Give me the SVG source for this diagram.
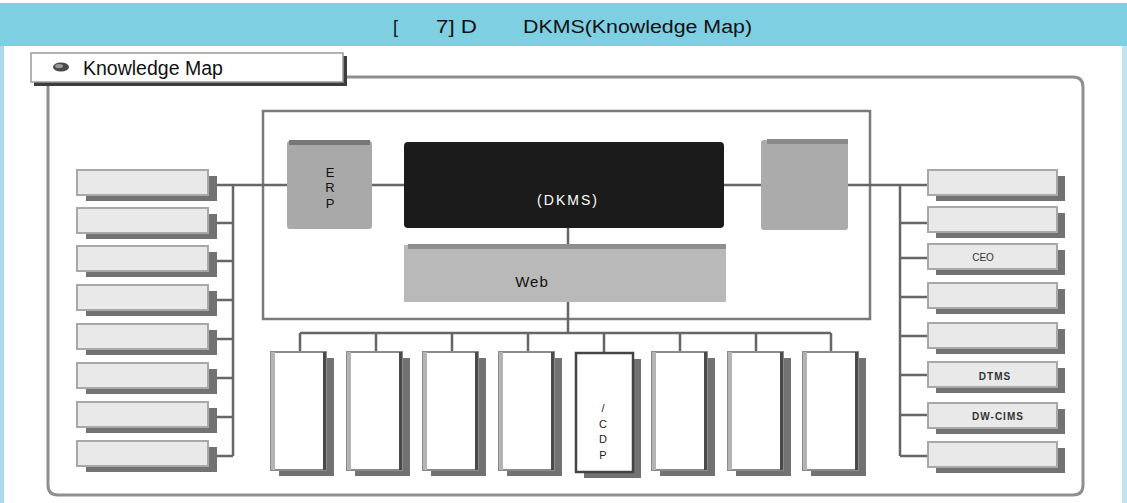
<svg xmlns="http://www.w3.org/2000/svg" width="1127" height="503" viewBox="0 0 1127 503">
<style>
text{font-family:"Liberation Sans",Arial,sans-serif;fill:#111}
.sh{fill:#727272}
.lb{fill:#e9e9e9;stroke:#a8a8a8;stroke-width:2}
.cb{fill:#fff;stroke:#8a8a8a;stroke-width:2}
.cl{fill:#b4b4b4}
.cr{fill:#4a4a4a}
.con{stroke:#666;stroke-width:2.5;fill:none}
.sm{font-size:10px;font-weight:bold;fill:#333;letter-spacing:1px;text-anchor:middle}
.vt{font-size:11px;fill:#222;text-anchor:middle}
</style>
<rect x="0" y="0" width="1127" height="503" fill="#fff"/>
<rect x="0" y="3" width="1127" height="43" fill="#7fcfe2"/>
<rect x="0" y="46" width="4" height="457" fill="#a6dbe9"/>
<rect x="1122" y="46" width="5" height="457" fill="#bfe6f0"/>
<g id="title">
<text x="393" y="33" font-size="18">[</text>
<text x="436" y="33" font-size="18" textLength="41" lengthAdjust="spacingAndGlyphs">7] D</text>
<text x="523" y="33" font-size="18" textLength="229" lengthAdjust="spacingAndGlyphs">DKMS(Knowledge Map)</text>
</g>
<g id="frame">
<path d="M48 86 V485 Q48 495 58 495 H1073 Q1083 495 1083 485 V87 Q1083 77 1073 77 H345" fill="none" stroke="#8f8f8f" stroke-width="3"/>
</g>
<g id="tab">
<rect x="34" y="56" width="313" height="30" fill="#3c3c3c"/>
<rect x="31" y="53" width="312" height="29" fill="#fff" stroke="#9a9a9a" stroke-width="1.5"/>
<ellipse cx="61" cy="67" rx="8" ry="4.5" fill="#4a4a4a"/>
<ellipse cx="59" cy="66" rx="4" ry="2" fill="#9a9a9a"/>
<text x="83" y="75" font-size="19.5">Knowledge Map</text>
</g>
<g id="inner">
<rect x="263" y="111" width="607" height="208" fill="none" stroke="#7a7a7a" stroke-width="2.5"/>
</g>
<g id="connectors">
<path class="con" d="M216 185 H287 M233 185 V456 M216 223 H233 M216 261 H233 M216 300 H233 M216 339 H233 M216 378 H233 M216 417 H233 M216 456 H233"/>
<path class="con" d="M372 185 H404 M724 185 H761 M568 228 V245 M568 302 V333"/>
<path class="con" d="M848 185 H928 M900 185 V456 M900 223 H928 M900 258 H928 M900 297 H928 M900 336 H928 M900 375 H928 M900 415 H928 M900 456 H928"/>
<path class="con" d="M300 333 H831 M300 333 V352 M376 333 V352 M452 333 V352 M528 333 V352 M604 333 V352 M680 333 V352 M756 333 V352 M831 333 V352"/>
</g>
<g id="erp">
<rect x="287" y="141" width="85" height="88" rx="3" fill="#a9a9a9"/>
<rect x="289" y="140" width="81" height="5" fill="#777"/>
<text x="330" y="177" font-size="13" text-anchor="middle">E</text>
<text x="330" y="192" font-size="13" text-anchor="middle">R</text>
<text x="330" y="208" font-size="13" text-anchor="middle">P</text>
</g>
<g id="dkms">
<rect x="404" y="142" width="320" height="86" rx="4" fill="#1b1b1b"/>
<text x="568" y="205" font-size="14" letter-spacing="2" text-anchor="middle" style="fill:#fff">(DKMS)</text>
</g>
<g id="rightbox">
<rect x="761" y="140" width="87" height="90" rx="3" fill="#ababab"/>
<rect x="767" y="139" width="81" height="5" fill="#8a8a8a"/>
</g>
<g id="web">
<rect x="404" y="245" width="322" height="57" fill="#b9b9b9"/>
<rect x="408" y="244" width="318" height="5" fill="#8e8e8e"/>
<text x="532" y="287" font-size="15" letter-spacing="1" text-anchor="middle">Web</text>
</g>
<g id="left-boxes">
<g id="l1"><rect class="sh" x="86" y="176" width="131" height="25"/><rect class="lb" x="77" y="170" width="131" height="25"/></g>
<g id="l2"><rect class="sh" x="86" y="214" width="131" height="25"/><rect class="lb" x="77" y="208" width="131" height="25"/></g>
<g id="l3"><rect class="sh" x="86" y="252" width="131" height="25"/><rect class="lb" x="77" y="246" width="131" height="25"/></g>
<g id="l4"><rect class="sh" x="86" y="291" width="131" height="25"/><rect class="lb" x="77" y="285" width="131" height="25"/></g>
<g id="l5"><rect class="sh" x="86" y="330" width="131" height="25"/><rect class="lb" x="77" y="324" width="131" height="25"/></g>
<g id="l6"><rect class="sh" x="86" y="369" width="131" height="25"/><rect class="lb" x="77" y="363" width="131" height="25"/></g>
<g id="l7"><rect class="sh" x="86" y="408" width="131" height="25"/><rect class="lb" x="77" y="402" width="131" height="25"/></g>
<g id="l8"><rect class="sh" x="86" y="447" width="131" height="25"/><rect class="lb" x="77" y="441" width="131" height="25"/></g>
</g>
<g id="right-boxes">
<g id="r1"><rect class="sh" x="936" y="176" width="129" height="25"/><rect class="lb" x="928" y="170" width="129" height="25"/></g>
<g id="r2"><rect class="sh" x="936" y="213" width="129" height="25"/><rect class="lb" x="928" y="207" width="129" height="25"/></g>
<g id="r3"><rect class="sh" x="936" y="250" width="129" height="25"/><rect class="lb" x="928" y="244" width="129" height="25"/><text class="sm" x="983" y="261" style="font-weight:normal;letter-spacing:0">CEO</text></g>
<g id="r4"><rect class="sh" x="936" y="289" width="129" height="25"/><rect class="lb" x="928" y="283" width="129" height="25"/></g>
<g id="r5"><rect class="sh" x="936" y="329" width="129" height="25"/><rect class="lb" x="928" y="323" width="129" height="25"/></g>
<g id="r6"><rect class="sh" x="936" y="368" width="129" height="25"/><rect class="lb" x="928" y="362" width="129" height="25"/><text class="sm" x="995" y="380">DTMS</text></g>
<g id="r7"><rect class="sh" x="936" y="409" width="129" height="25"/><rect class="lb" x="928" y="403" width="129" height="25"/><text class="sm" x="998" y="420">DW-CIMS</text></g>
<g id="r8"><rect class="sh" x="936" y="448" width="129" height="25"/><rect class="lb" x="928" y="442" width="129" height="25"/></g>
</g>
<g id="bottom-boxes">
<g id="b1"><rect class="sh" x="279" y="358" width="55" height="118"/><rect class="cb" x="271" y="352" width="55" height="118"/><rect class="cl" x="271" y="352" width="4" height="118"/><rect class="cr" x="323" y="352" width="3" height="118"/></g>
<g id="b2"><rect class="sh" x="355" y="358" width="55" height="118"/><rect class="cb" x="347" y="352" width="55" height="118"/><rect class="cl" x="347" y="352" width="4" height="118"/><rect class="cr" x="399" y="352" width="3" height="118"/></g>
<g id="b3"><rect class="sh" x="431" y="358" width="55" height="118"/><rect class="cb" x="423" y="352" width="55" height="118"/><rect class="cl" x="423" y="352" width="4" height="118"/><rect class="cr" x="475" y="352" width="3" height="118"/></g>
<g id="b4"><rect class="sh" x="507" y="358" width="55" height="118"/><rect class="cb" x="499" y="352" width="55" height="118"/><rect class="cl" x="499" y="352" width="4" height="118"/><rect class="cr" x="551" y="352" width="3" height="118"/></g>
<g id="b5"><rect class="sh" x="584" y="359" width="57" height="119"/><rect x="576" y="353" width="57" height="119" fill="#fff" stroke="#444" stroke-width="2.5"/>
<text class="vt" x="603" y="412">/</text><text class="vt" x="603" y="428">C</text><text class="vt" x="603" y="443">D</text><text class="vt" x="603" y="459">P</text></g>
<g id="b6"><rect class="sh" x="660" y="358" width="55" height="118"/><rect class="cb" x="652" y="352" width="55" height="118"/><rect class="cl" x="652" y="352" width="4" height="118"/><rect class="cr" x="704" y="352" width="3" height="118"/></g>
<g id="b7"><rect class="sh" x="736" y="358" width="55" height="118"/><rect class="cb" x="728" y="352" width="55" height="118"/><rect class="cl" x="728" y="352" width="4" height="118"/><rect class="cr" x="780" y="352" width="3" height="118"/></g>
<g id="b8"><rect class="sh" x="811" y="358" width="55" height="118"/><rect class="cb" x="803" y="352" width="55" height="118"/><rect class="cl" x="803" y="352" width="4" height="118"/><rect class="cr" x="855" y="352" width="3" height="118"/></g>
</g>
</svg>
